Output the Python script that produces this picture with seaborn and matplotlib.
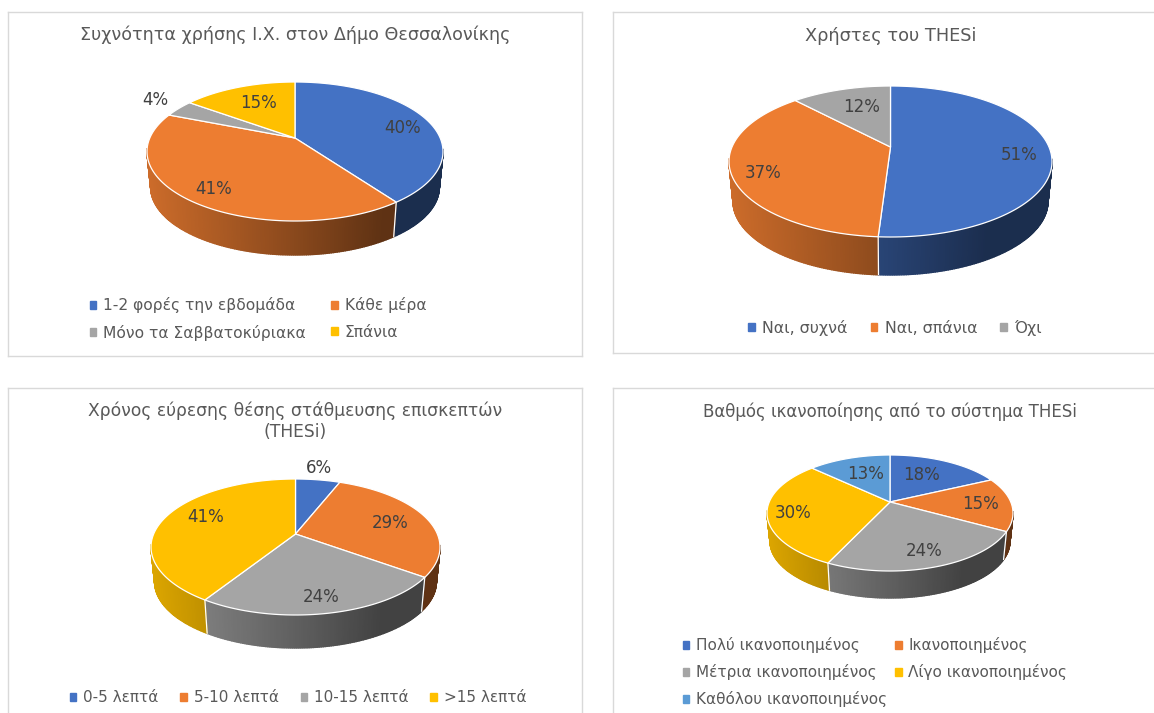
import numpy as np
import matplotlib
matplotlib.use("Agg")
import matplotlib.pyplot as plt
import seaborn as sns
from matplotlib.patches import Patch
from matplotlib.path import Path
from matplotlib.transforms import Affine2D, Transform

# Chart data
title_car = "Συχνότητα χρήσης Ι.Χ. στον Δήμο Θεσσαλονίκης"
labels_car = ["1-2 φορές την εβδομάδα", "Κάθε μέρα", "Μόνο τα Σαββατοκύριακα", "Σπάνια"]
values_car = [40, 41, 4, 15]

title_users = "Χρήστες του THESi"
labels_users = ["Ναι, συχνά", "Ναι, σπάνια", "Όχι"]
values_users = [51, 37, 12]

title_time = "Χρόνος εύρεσης θέσης στάθμευσης επισκεπτών\n(THESi)"
labels_time = ["0-5 λεπτά", "5-10 λεπτά", "10-15 λεπτά", ">15 λεπτά"]
values_time = [6, 29, 24, 41]

title_sat = "Βαθμός ικανοποίησης από το σύστημα THESi"
labels_sat = ["Πολύ ικανοποιημένος", "Ικανοποιημένος", "Μέτρια ικανοποιημένος",
              "Λίγο ικανοποιημένος", "Καθόλου ικανοποιημένος"]
values_sat = [18, 15, 24, 30, 13]

colors = sns.color_palette(["#4472C4", "#ED7D31", "#A5A5A5", "#FFC000", "#5B9BD5"])

# Layout, all in pixels of the final image
W, H = 1154, 713
layouts = [
    dict(title=title_car, labels=labels_car, values=values_car, box=(7.5, 12, 582, 356),
         title_y=35, title_fs=12.65,
         cx=295, apex=138, half=148, top=82, bottom=221, wall=255,
         text_xy=[(403, 128), (214, 189), (155, 100), (259, 103)],
         legend_xy=(258, 319), ncol=2, legend_fs=11.2, col_gap=25),
    dict(title=title_users, labels=labels_users, values=values_users, box=(612.5, 12, W, 353),
         title_y=36, title_fs=12.8,
         cx=890.5, apex=147, half=161.5, top=86, bottom=237, wall=275,
         text_xy=[(1019, 155), (763, 173), (862, 107)],
         legend_xy=(895, 328), ncol=3, legend_fs=11.4, col_gap=23),
    dict(title=title_time, labels=labels_time, values=values_time, box=(7.5, 388, 582, H),
         title_y=421, title_fs=12.3,
         cx=295.5, apex=534, half=144.5, top=479, bottom=615, wall=648,
         text_xy=[(319, 468), (390, 523), (321, 597), (206, 517)],
         legend_xy=(298, 698), ncol=4, legend_fs=11.0, col_gap=22),
    dict(title=title_sat, labels=labels_sat, values=values_sat, box=(612.5, 388, W, H),
         title_y=412, title_fs=12.0,
         cx=890, apex=502, half=123, top=455, bottom=571, wall=598,
         text_xy=[(921.5, 475), (980, 504), (924, 551), (793, 513), (866, 474)],
         legend_xy=(875, 672), ncol=2, legend_fs=11.0, col_gap=8),
]


class Perspective(Transform):
    # maps the flat unit disc of the pie to its tilted position on the panel
    input_dims = output_dims = 2

    def __init__(self, cx, apex, sx, sy, k):
        super().__init__()
        self.cx, self.apex, self.sx, self.sy, self.k = cx, apex, sx, sy, k

    def transform_non_affine(self, values):
        values = np.asarray(values, dtype=float)
        w = 1 + self.k * values[:, 1]
        return np.column_stack([self.cx + self.sx * values[:, 0] / w,
                                self.apex - self.sy * values[:, 1] / w])

    def transform_path_non_affine(self, path):
        # flatten the wedge curves first
        big = Affine2D().scale(1000).transform_path(path)
        verts = big.to_polygons(closed_only=False)[0] / 1000
        return Path(self.transform_non_affine(verts), closed=True)


def draw_panel(ax, p):
    x0, y0, x1, y1 = p["box"]
    vals = np.array(p["values"], dtype=float)
    n = len(vals)

    up = p["apex"] - p["top"]
    down = p["bottom"] - p["apex"]
    k = (down - up) / (down + up)
    sy = up * (1 + k)
    sx = p["half"] * np.sqrt(1 - k ** 2)
    top_face = Perspective(p["cx"], p["apex"], sx, sy, k)
    shrink = 0.975
    drop = p["wall"] - p["apex"] - shrink * down
    low_face = Perspective(p["cx"], p["apex"] + drop, sx * shrink, sy * shrink, k)

    # top face from the pie itself
    wedges, _ = ax.pie(vals, colors=colors[:n], startangle=90, counterclock=False,
                       frame=True, wedgeprops=dict(edgecolor="white", linewidth=0.9))
    for w in wedges:
        w.set_transform(top_face + ax.transData)
        w.set_zorder(3)

    ax.set_aspect("auto")
    ax.set_xlim(x0, x1)
    ax.set_ylim(y1, y0)
    ax.set_xticks([])
    ax.set_yticks([])

    # side wall: shaded strips following each slice
    edges = np.cumsum(np.r_[0, vals]) / vals.sum() * 2 * np.pi
    for i in range(n):
        steps = np.arange(edges[i], edges[i + 1] + 0.012, 0.012)
        steps[-1] = min(steps[-1], edges[i + 1])
        ring = np.column_stack([np.sin(steps), np.cos(steps)])
        hi = top_face.transform_non_affine(ring)
        lo = low_face.transform_non_affine(ring)
        for j in range(len(steps) - 1):
            if ring[j, 1] > -0.8 * k:
                continue
            t = (hi[j, 0] - p["cx"]) / p["half"]
            f = np.interp(t, [-1, 0, 0.6, 1], [0.86, 0.58, 0.40, 0.40])
            shade = tuple(c * f for c in colors[i])
            # solid edge so neighbouring strips overlap without seams
            ax.fill([hi[j, 0], hi[j + 1, 0], lo[j + 1, 0], lo[j, 0]],
                    [hi[j, 1], hi[j + 1, 1], lo[j + 1, 1], lo[j, 1]],
                    color=shade, lw=1.0, zorder=1)
        if np.cos(edges[i]) < 0:
            seam = np.array([[np.sin(edges[i]), np.cos(edges[i])]])
            a = top_face.transform_non_affine(seam)[0]
            b = low_face.transform_non_affine(seam)[0]
            ax.plot([a[0], b[0]], [a[1], b[1]], color="white", lw=0.9, zorder=2)

    for v, (tx, ty) in zip(p["values"], p["text_xy"]):
        ax.text(tx, ty, f"{v}%", color="#404040", fontsize=FS_LABEL,
                ha="center", va="center", zorder=5)

    ax.text(p["cx"], p["title_y"], p["title"], color="#595959",
            fontsize=p["title_fs"], ha="center", va="center", linespacing=1.2, zorder=5)

    # legend reads row by row in the source, matplotlib fills columns
    ncol = p["ncol"]
    order = [i for c in range(ncol) for i in range(c, n, ncol)]
    handles = [Patch(color=colors[i]) for i in order]
    fs = p["legend_fs"]
    ax.legend(handles, [p["labels"][i] for i in order], ncol=ncol, loc="center",
              bbox_to_anchor=p["legend_xy"], bbox_transform=ax.transData,
              frameon=False, fontsize=fs, labelcolor="#595959",
              handlelength=0.42, handleheight=0.42, handletextpad=0.45,
              columnspacing=p["col_gap"] * 0.72 / fs, labelspacing=0.72,
              borderpad=0, borderaxespad=0)

    for side, spine in ax.spines.items():
        spine.set_color("#D9D9D9")
        spine.set_linewidth(1.0)
    if x1 >= W:
        ax.spines["right"].set_visible(False)
    if y1 >= H:
        ax.spines["bottom"].set_visible(False)


sns.set_theme(style="white")
plt.rcParams["font.family"] = ["DejaVu Sans"]

FS_LABEL = 12

fig = plt.figure(figsize=(W / 100, H / 100), dpi=100, facecolor="white")
for p in layouts:
    x0, y0, x1, y1 = p["box"]
    ax = fig.add_axes([x0 / W, 1 - y1 / H, (x1 - x0) / W, (y1 - y0) / H])
    draw_panel(ax, p)

fig.savefig("out.png", dpi=100, facecolor="white")
